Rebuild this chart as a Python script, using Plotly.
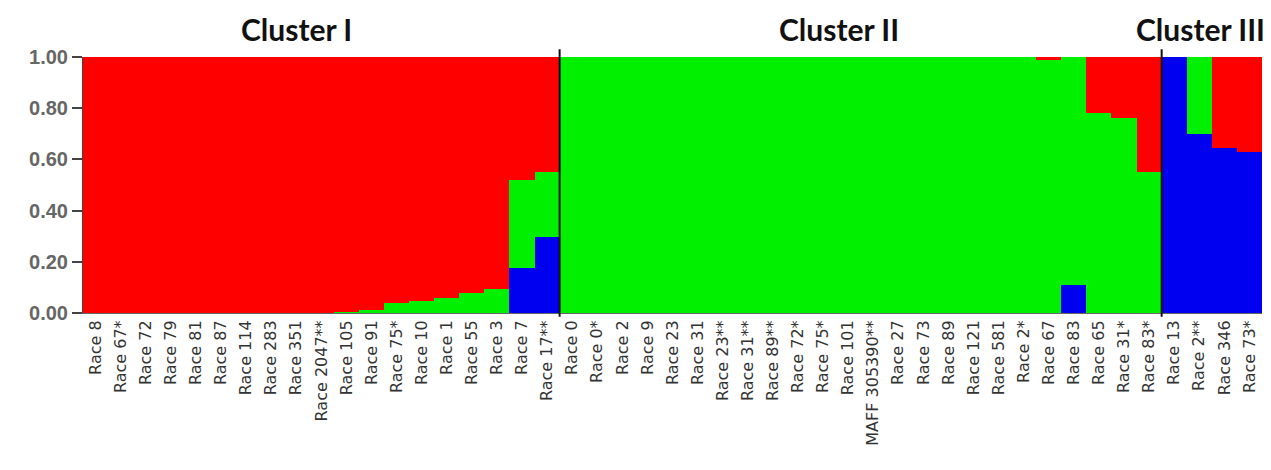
import plotly.graph_objects as go

labels = [
    "Race 8", "Race 67*", "Race 72", "Race 79", "Race 81", "Race 87", "Race 114",
    "Race 283", "Race 351", "Race 2047**", "Race 105", "Race 91", "Race 75*",
    "Race 10", "Race 1", "Race 55", "Race 3", "Race 7", "Race 17**",
    "Race 0", "Race 0*", "Race 2", "Race 9", "Race 23", "Race 31", "Race 23**",
    "Race 31**", "Race 89**", "Race 72*", "Race 75*", "Race 101", "MAFF 305390**",
    "Race 27", "Race 73", "Race 89", "Race 121", "Race 581", "Race 2*", "Race 67",
    "Race 83", "Race 65", "Race 31*", "Race 83*",
    "Race 13", "Race 2**", "Race 346", "Race 73*",
]

blue = [0, 0, 0, 0, 0, 0, 0, 0, 0, 0, 0, 0, 0, 0, 0, 0, 0, 0.175, 0.295,
        0, 0, 0, 0, 0, 0, 0, 0, 0, 0, 0, 0, 0, 0, 0, 0, 0, 0, 0, 0, 0.11, 0, 0, 0,
        1.0, 0.70, 0.645, 0.63]
green = [0, 0, 0, 0, 0, 0, 0, 0, 0, 0, 0.003, 0.01, 0.04, 0.045, 0.06, 0.08, 0.095, 0.345, 0.255,
         1, 1, 1, 1, 1, 1, 1, 1, 1, 1, 1, 1, 1, 1, 1, 1, 1, 1, 1, 0.99, 0.89, 0.78, 0.76, 0.55,
         0, 0.30, 0, 0]
red = [1, 1, 1, 1, 1, 1, 1, 1, 1, 1, 0.997, 0.99, 0.96, 0.955, 0.94, 0.92, 0.905, 0.48, 0.45,
       0, 0, 0, 0, 0, 0, 0, 0, 0, 0, 0, 0, 0, 0, 0, 0, 0, 0, 0, 0.01, 0, 0.22, 0.24, 0.45,
       0, 0, 0.355, 0.37]

cluster_names = ["Cluster I", "Cluster II", "Cluster III"]
cluster_sizes = [19, 24, 4]
y_ticks = [0.0, 0.2, 0.4, 0.6, 0.8, 1.0]

x = list(range(len(labels)))

fig = go.Figure()
for vals, col in [(blue, "#0000F0"), (green, "#00F000"), (red, "#FF0000")]:
    fig.add_trace(go.Bar(x=x, y=vals, marker=dict(color=col, line=dict(width=0)),
                         showlegend=False, hoverinfo="skip"))

# cluster separators
edge = -0.5
for s in cluster_sizes[:-1]:
    edge += s
    fig.add_shape(type="line", xref="x", yref="paper", x0=edge, x1=edge,
                  y0=-0.015, y1=1.03, line=dict(color="#111111", width=2))

ann_pos = [(0.1815, "center"), (0.641, "center"), (1.004, "right")]
for name, (px, anc) in zip(cluster_names, ann_pos):
    fig.add_annotation(text=name, xref="paper", yref="paper", x=px, y=1.108,
                       xanchor=anc, yanchor="middle", showarrow=False,
                       font=dict(family="Lato", size=30, color="#111111", weight="bold"))

fig.update_layout(
    barmode="stack", bargap=0,
    width=1271, height=470,
    margin=dict(l=83, r=9, t=57, b=157, autoexpand=False),
    plot_bgcolor="white", paper_bgcolor="white",
)
fig.update_xaxes(
    range=[-0.5, len(labels) - 0.5], tickmode="array", tickvals=x, ticktext=labels,
    tickangle=-90, tickfont=dict(family="DejaVu Sans", size=16, color="#333333"),
    showgrid=False, showline=True, linecolor="#666666", linewidth=1, ticks="", zeroline=False,
    automargin=False,
)
fig.update_yaxes(
    range=[0, 1], tickmode="array", tickvals=y_ticks,
    ticktext=[f"{v:.2f}" for v in y_ticks],
    tickfont=dict(family="Liberation Sans", size=20, color="#666666", weight="bold"),
    ticks="outside", ticklen=10, tickcolor="#444444", tickwidth=2,
    showgrid=False, showline=True, linecolor="#444444", linewidth=1, zeroline=False,
    automargin=False,
)

fig.write_html("out.html", config={"displayModeBar": False},
               post_script="document.body.style.margin='0';")
